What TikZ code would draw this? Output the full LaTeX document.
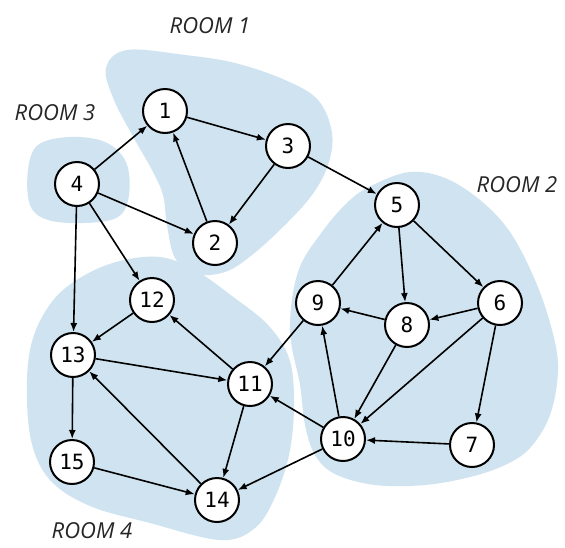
\documentclass[tikz,border=0pt]{standalone}
\usepackage{fontspec}
\setmainfont{Open Sans}
\newfontfamily\digitfont{DejaVu Sans Mono}
\usetikzlibrary{arrows.meta}
\definecolor{roomc}{RGB}{207,228,240}
\tikzset{
  vert/.style={circle,draw=black,fill=white,line width=2pt,minimum size=44pt,inner sep=0pt,
    font=\digitfont\fontsize{21}{21}\selectfont},
  arr/.style={line width=1.6pt,-{Latex[length=9pt,width=7pt]}},
  roomlabel/.style={font=\itshape\fontsize{22}{22}\selectfont,text=black!85},
  blob/.style={fill=roomc}
}
\begin{document}
\begin{tikzpicture}[x=1pt,y=-1pt]
\useasboundingbox (0,0) rectangle (565,547);
\fill[white] (0,0) rectangle (565,547);
% rooms
\fill[blob] plot[smooth cycle,tension=0.6] coordinates {(127,50) (185,55) (235,63) (285,80) (318,100) (332,133) (328,165) (312,195) (285,225) (252,255) (225,272) (195,274) (175,258) (167,225) (163,195) (152,170) (135,140) (114,100) (106,68)};
\fill[blob] plot[smooth cycle,tension=0.6] coordinates {(28,170) (38,145) (70,137) (105,142) (126,162) (129,195) (118,217) (85,223) (48,220) (30,205)};
\fill[blob] plot[smooth cycle,tension=0.6] coordinates {(375,184) (410,172) (445,178) (480,200) (510,232) (535,280) (552,330) (558,370) (550,415) (530,448) (505,465) (470,477) (425,485) (375,485) (335,474) (315,455) (305,425) (300,385) (290,330) (298,272) (322,232) (350,200)};
\fill[blob] plot[smooth cycle,tension=0.6] coordinates {(27,380) (34,335) (55,298) (85,275) (120,261) (160,257) (195,270) (232,296) (268,325) (289,358) (294,400) (290,450) (276,495) (255,528) (220,540) (150,523) (90,506) (50,480) (31,440)};
% labels
\node[roomlabel] (r1) at (210,26) {ROOM 1};
\node[roomlabel] (r3) at (55,113) {ROOM 3};
\node[roomlabel] (r2) at (517,185) {ROOM 2};
\node[roomlabel] (r4) at (92,531) {ROOM 4};
% vertices
\node[vert] (n1) at (165,111) {1};
\node[vert] (n2) at (215,243) {2};
\node[vert] (n3) at (288,146) {3};
\node[vert] (n4) at (77,184) {4};
\node[vert] (n5) at (397,205) {5};
\node[vert] (n6) at (500,303) {6};
\node[vert] (n7) at (472,445) {7};
\node[vert] (n8) at (407,325) {8};
\node[vert] (n9) at (318,303) {9};
\node[vert] (n10) at (343,439) {10};
\node[vert] (n11) at (250,384) {11};
\node[vert] (n12) at (152,300) {12};
\node[vert] (n13) at (73,355) {13};
\node[vert] (n14) at (217,500) {14};
\node[vert] (n15) at (72,462) {15};
% edges
\draw[arr] (n4) -- (n1);
\draw[arr] (n1) -- (n3);
\draw[arr] (n2) -- (n1);
\draw[arr] (n3) -- (n2);
\draw[arr] (n4) -- (n2);
\draw[arr] (n3) -- (n5);
\draw[arr] (n4) -- (n13);
\draw[arr] (n4) -- (n12);
\draw[arr] (n12) -- (n13);
\draw[arr] (n13) -- (n11);
\draw[arr] (n11) -- (n12);
\draw[arr] (n13) -- (n15);
\draw[arr] (n14) -- (n13);
\draw[arr] (n15) -- (n14);
\draw[arr] (n11) -- (n14);
\draw[arr] (n10) -- (n14);
\draw[arr] (n10) -- (n11);
\draw[arr] (n9) -- (n11);
\draw[arr] (n9) -- (n5);
\draw[arr] (n5) -- (n8);
\draw[arr] (n5) -- (n6);
\draw[arr] (n8) -- (n9);
\draw[arr] (n6) -- (n8);
\draw[arr] (n8) -- (n10);
\draw[arr] (n6) -- (n10);
\draw[arr] (n10) -- (n9);
\draw[arr] (n6) -- (n7);
\draw[arr] (n7) -- (n10);
\end{tikzpicture}
\end{document}
